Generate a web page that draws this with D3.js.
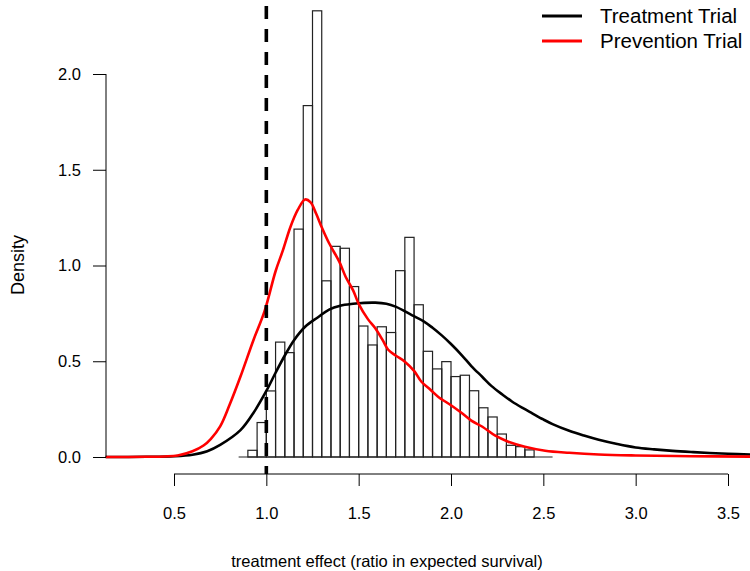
<!DOCTYPE html>
<html>
<head>
<meta charset="utf-8">
<script src="https://cdn.jsdelivr.net/npm/d3@7"></script>
<style>
  body { margin: 0; background: #fff; }
  text { font-family: "Liberation Sans", Arial, sans-serif; fill: #000; }
</style>
</head>
<body>
<div class="chart"></div>
<script>
// histogram bins (width 0.05) starting at 0.85, density heights
var binStart = 0.85, binWidth = 0.05;
var histDensity = [0, 0.035, 0.18, 0.345, 0.60, 0.545, 1.19, 1.835, 2.33, 0.92,
    1.10, 1.09, 0.89, 0.684, 0.585, 0.68, 0.65, 0.973, 1.147, 0.795,
    0.552, 0.46, 0.498, 0.42, 0.427, 0.346, 0.257, 0.209, 0.12, 0.061,
    0.054, 0.037, 0, 0];

// density curve: treatment trial
var treatX = [0.13, 0.35, 0.5, 0.6, 0.68, 0.75, 0.86, 0.93, 1.0, 1.05, 1.1, 1.15, 1.21, 1.28, 1.34, 1.4,
    1.47, 1.53, 1.59, 1.65, 1.7, 1.79, 1.85, 1.9, 1.95, 2.0, 2.06, 2.11, 2.17, 2.22, 2.28, 2.33,
    2.39, 2.44, 2.5, 2.55, 2.64, 2.72, 2.8, 2.9, 3.0, 3.1, 3.2, 3.3, 3.4, 3.5, 3.62];
var treatY = [0, 0.001, 0.004, 0.012, 0.03, 0.063, 0.14, 0.23, 0.345, 0.44, 0.53, 0.61, 0.68, 0.73, 0.77, 0.79,
    0.80, 0.805, 0.806, 0.80, 0.785, 0.74, 0.71, 0.675, 0.635, 0.59, 0.53, 0.475, 0.418, 0.37, 0.325, 0.29,
    0.255, 0.228, 0.196, 0.172, 0.137, 0.112, 0.09, 0.068, 0.05, 0.04, 0.032, 0.026, 0.021, 0.017, 0.013];

// density curve: prevention trial
var prevX = [0.13, 0.35, 0.45, 0.52, 0.6, 0.66, 0.7, 0.75, 0.8, 0.86, 0.93, 0.99, 1.05, 1.09, 1.13, 1.17,
    1.21, 1.24, 1.27, 1.3, 1.34, 1.395, 1.43, 1.47, 1.5, 1.55, 1.59, 1.63, 1.66, 1.7, 1.75, 1.8,
    1.84, 1.89, 1.93, 2.0, 2.06, 2.11, 2.17, 2.24, 2.31, 2.4, 2.51, 2.64, 2.8, 3.0, 3.3, 3.62];
var prevY = [0, 0.001, 0.003, 0.008, 0.03, 0.06, 0.095, 0.16, 0.27, 0.42, 0.61, 0.76, 0.97, 1.08, 1.2, 1.29,
    1.345, 1.33, 1.27, 1.2, 1.116, 1.02, 0.94, 0.87, 0.80, 0.72, 0.672, 0.61, 0.56, 0.53, 0.498, 0.45,
    0.393, 0.35, 0.315, 0.27, 0.228, 0.19, 0.158, 0.111, 0.08, 0.054, 0.033, 0.022, 0.013, 0.008, 0.004, 0.002];

var xTicks = [0.5, 1.0, 1.5, 2.0, 2.5, 3.0, 3.5];
var yTicks = [0, 0.5, 1.0, 1.5, 2.0];
var legendLabels = ["Treatment Trial", "Prevention Trial"];
var legendColors = ["#000000", "#ff0000"];

var width = 750, height = 571;
var svg = d3.select(".chart").append("svg")
    .attr("width", width)
    .attr("height", height);

var x = d3.scaleLinear().domain([0.5, 3.5]).range([174, 728]);
var y = d3.scaleLinear().domain([0, 2]).range([457, 74]);
var plotLeft = 106, plotBottom = 474;

// histogram
var bins = histDensity.map(function (d, i) {
    return { x0: binStart + i * binWidth, x1: binStart + (i + 1) * binWidth, d: d };
});
var hg = svg.append("g");
// zero-height bins still show as a baseline, like R's hist()
hg.append("line")
    .attr("x1", x(bins[0].x0)).attr("x2", x(bins[bins.length - 1].x1))
    .attr("y1", y(0)).attr("y2", y(0))
    .attr("stroke", "#222").attr("stroke-width", 1.2);
hg.selectAll("rect")
    .data(bins.filter(function (b) { return b.d > 0; }))
    .enter().append("rect")
    .attr("x", function (b) { return x(b.x0); })
    .attr("y", function (b) { return y(b.d); })
    .attr("width", function (b) { return x(b.x1) - x(b.x0); })
    .attr("height", function (b) { return y(0) - y(b.d); })
    .attr("fill", "none")
    .attr("stroke", "#222")
    .attr("stroke-width", 1.2);

// density lines
var line = d3.line()
    .x(function (d) { return x(d[0]); })
    .y(function (d) { return y(d[1]); })
    .curve(d3.curveCatmullRom.alpha(0.5));

svg.append("path")
    .attr("d", line(treatX.map(function (v, i) { return [v, treatY[i]]; })))
    .attr("fill", "none").attr("stroke", legendColors[0]).attr("stroke-width", 2.6);
svg.append("path")
    .attr("d", line(prevX.map(function (v, i) { return [v, prevY[i]]; })))
    .attr("fill", "none").attr("stroke", legendColors[1]).attr("stroke-width", 2.6);

// reference line at 1
svg.append("line")
    .attr("x1", x(1)).attr("x2", x(1))
    .attr("y1", 6).attr("y2", plotBottom)
    .attr("stroke", "#000")
    .attr("stroke-width", 3.6)
    .attr("stroke-dasharray", "13,10");

// y axis
var yAxis = d3.axisLeft(y).tickValues(yTicks).tickSize(13).tickPadding(12)
    .tickFormat(d3.format(".1f"));
var gy = svg.append("g").attr("transform", "translate(" + plotLeft + ",0)").call(yAxis);
gy.select(".domain").attr("d", "M0," + y(0) + "V" + y(2)).attr("stroke", "#000");
gy.selectAll("text").attr("font-size", 16.5).attr("font-family", "Liberation Sans, Arial, sans-serif");

// x axis
var xAxis = d3.axisBottom(x).tickValues(xTicks).tickSize(12).tickPadding(21)
    .tickFormat(d3.format(".1f"));
var gx = svg.append("g").attr("transform", "translate(0," + plotBottom + ")").call(xAxis);
gx.select(".domain").attr("d", "M" + x(0.5) + ",0H" + x(3.5)).attr("stroke", "#000");
gx.selectAll("text").attr("font-size", 16.5).attr("font-family", "Liberation Sans, Arial, sans-serif");

// axis titles
svg.append("text")
    .attr("x", 387).attr("y", 567)
    .attr("text-anchor", "middle")
    .attr("font-size", 16.5)
    .text("treatment effect (ratio in expected survival)");
svg.append("text")
    .attr("transform", "translate(24," + 265 + ") rotate(-90)")
    .attr("text-anchor", "middle")
    .attr("font-size", 18)
    .text("Density");

// legend
var lg = svg.append("g").selectAll("g")
    .data(legendLabels)
    .enter().append("g")
    .attr("transform", function (d, i) { return "translate(542," + (16 + i * 25) + ")"; });
lg.append("line")
    .attr("x1", 0).attr("x2", 40)
    .attr("stroke", function (d, i) { return legendColors[i]; })
    .attr("stroke-width", 3);
lg.append("text")
    .attr("x", 58).attr("y", 7)
    .attr("font-size", 20.5)
    .text(function (d) { return d; });
</script>
</body>
</html>
